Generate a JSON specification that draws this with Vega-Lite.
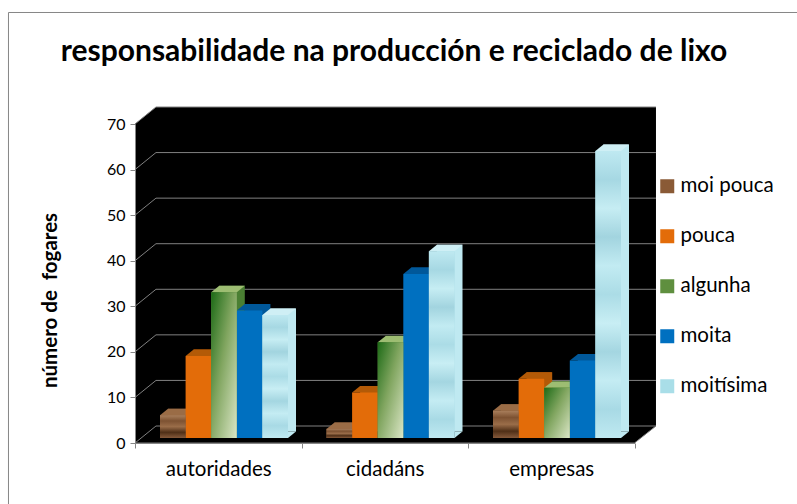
{
"$schema":"https://vega.github.io/schema/vega-lite/v6.json",
"width":499.5,"height":319,
"autosize":{"type":"none"},
"padding":{"left":135,"top":124,"right":162.5,"bottom":61},
"background":"white",
"config":{"view":{"stroke":null},"font":"Lato"},
"datasets":{
"bars":[
{"group":"autoridades","series":"moi pouca","value":5},{"group":"autoridades","series":"pouca","value":18},{"group":"autoridades","series":"algunha","value":32},{"group":"autoridades","series":"moita","value":28},{"group":"autoridades","series":"moitísima","value":27},
{"group":"cidadáns","series":"moi pouca","value":2},{"group":"cidadáns","series":"pouca","value":10},{"group":"cidadáns","series":"algunha","value":21},{"group":"cidadáns","series":"moita","value":36},{"group":"cidadáns","series":"moitísima","value":41},
{"group":"empresas","series":"moi pouca","value":6},{"group":"empresas","series":"pouca","value":13},{"group":"empresas","series":"algunha","value":11},{"group":"empresas","series":"moita","value":17},{"group":"empresas","series":"moitísima","value":63}
],
"wall":[{"wx":0,"y0":0,"y1":70},{"wx":0.042,"y0":0,"y1":73.73},{"wx":1,"y0":0,"y1":73.73},{"wx":1.043,"y0":3.73,"y1":73.73}],
"grid":[
{"level":"0","wx":0,"gy":0},{"level":"0","wx":0.042,"gy":3.73},{"level":"0","wx":1.043,"gy":3.73},
{"level":"10","wx":0,"gy":10},{"level":"10","wx":0.042,"gy":13.73},{"level":"10","wx":1.043,"gy":13.73},
{"level":"20","wx":0,"gy":20},{"level":"20","wx":0.042,"gy":23.73},{"level":"20","wx":1.043,"gy":23.73},
{"level":"30","wx":0,"gy":30},{"level":"30","wx":0.042,"gy":33.73},{"level":"30","wx":1.043,"gy":33.73},
{"level":"40","wx":0,"gy":40},{"level":"40","wx":0.042,"gy":43.73},{"level":"40","wx":1.043,"gy":43.73},
{"level":"50","wx":0,"gy":50},{"level":"50","wx":0.042,"gy":53.73},{"level":"50","wx":1.043,"gy":53.73},
{"level":"60","wx":0,"gy":60},{"level":"60","wx":0.042,"gy":63.73},{"level":"60","wx":1.043,"gy":63.73},
{"level":"70","wx":0,"gy":70},{"level":"70","wx":0.042,"gy":73.73},{"level":"70","wx":1.043,"gy":73.73},
{"level":"floor","wx":0,"gy":0},{"level":"floor","wx":1,"gy":0},{"level":"floor","wx":1.043,"gy":3.73}
],
"frame":[{"wx":-0.2533,"gy":-14},{"wx":-0.2533,"gy":94.47},{"wx":1.33,"gy":94.47}],
"heading":[{"wx":0.5185,"gy":83.8,"label":"responsabilidade na producción e reciclado de lixo"}]
},
"layer":[
{"layer":[
{"data":{"name":"frame"},"mark":{"type":"line","color":"#868686","strokeWidth":1,"clip":false},
 "encoding":{"x":{"field":"wx","type":"quantitative","scale":{"domain":[0,1],"nice":false,"zero":false},"axis":null},"y":{"field":"gy","type":"quantitative","scale":{"domain":[0,70],"nice":false},"axis":{"values":[0,10,20,30,40,50,60,70],"grid":false,"title":"número de\u00a0 fogares","titleFontSize":20.5,"titleFontWeight":"bold","titleColor":"#000000","titleX":-75,"titleY":176,"labelFontSize":16,"labelColor":"#000000","labelPadding":5,"tickSize":5,"tickColor":"#868686","domainColor":"#868686","zindex":1}},"order":{"field":"gy","type":"quantitative"}}},
{"data":{"name":"wall"},"mark":{"type":"area","color":"#000000","clip":false},
 "encoding":{"x":{"field":"wx","type":"quantitative"},"y":{"field":"y0","type":"quantitative"},"y2":{"field":"y1"}}},
{"data":{"name":"grid"},"mark":{"type":"line","color":"#808080","strokeWidth":1,"clip":false},
 "encoding":{"x":{"field":"wx","type":"quantitative"},"y":{"field":"gy","type":"quantitative"},"detail":{"field":"level","type":"nominal"}}},
{"data":{"name":"heading"},"mark":{"type":"text","font":"Lato","fontSize":30,"fontWeight":"bold","color":"#000000","align":"center","baseline":"alphabetic"},
 "encoding":{"x":{"field":"wx","type":"quantitative"},"y":{"field":"gy","type":"quantitative"},"text":{"field":"label"}}}
]},
{"data":{"name":"bars"},
 "resolve":{"scale":{"xOffset":"independent","color":"independent"}},
 "layer":[
 {"mark":{"type":"bar","opacity":0},
  "encoding":{"x":{"field":"group","type":"nominal","sort":["autoridades","cidadáns","empresas"],"scale":{"paddingInner":0,"paddingOuter":0},"axis":{"orient":"bottom","title":null,"labelAngle":0,"labelFontSize":20.5,"labelColor":"#000000","labelPadding":11,"tickBand":"extent","tickSize":5,"tickColor":"#868686","domainColor":"#868686","zindex":1}},"y":{"field":"value","type":"quantitative"}}},
 {"mark":{"type":"bar","yOffset":-11.5,"y2Offset":-11.5},
  "encoding":{"x":{"field":"group","type":"nominal"},"y":{"field":"value","type":"quantitative"},
   "xOffset":{"field":"series","type":"nominal","scale":{"domain":["moi pouca","pouca","algunha","moita","moitísima"],"range":[33,161],"paddingInner":0,"paddingOuter":0}},
   "color":{"field":"series","type":"nominal","legend":null,"scale":{"domain":["moi pouca","pouca","algunha","moita","moitísima"],"range":["#7a4f2e","#b35a07","#4a7f33","#00589a","#bfe9f1"]}}}},
 {"mark":{"type":"point","filled":true,"opacity":1,"strokeWidth":0,"size":655,"yOffset":-5,"shape":"M-1,0 L1,0 L1.625,-0.5 L-0.375,-0.5 Z"},
  "encoding":{"x":{"field":"group","type":"nominal"},"y":{"field":"value","type":"quantitative"},
   "xOffset":{"field":"series","type":"nominal","scale":{"type":"point","domain":["moi pouca","pouca","algunha","moita","moitísima"],"range":[37.8,140.2],"padding":0}},
   "color":{"field":"series","type":"nominal","legend":null,"scale":{"domain":["moi pouca","pouca","algunha","moita","moitísima"],"range":["#9a6c46","#b35a07","#9dbd72","#00589a","#cfeff5"]}}}},
 {"mark":{"type":"point","filled":true,"opacity":1,"strokeWidth":0,"size":655,"yOffset":-5,"shape":"M1,0 L1.625,-0.5 L1,-0.5 Z"},
  "encoding":{"x":{"field":"group","type":"nominal"},"y":{"datum":0,"type":"quantitative"},
   "xOffset":{"field":"series","type":"nominal","scale":{"type":"point","domain":["moi pouca","pouca","algunha","moita","moitísima"],"range":[37.8,140.2],"padding":0}},
   "color":{"field":"series","type":"nominal","legend":null,"scale":{"domain":["moi pouca","pouca","algunha","moita","moitísima"],"range":["#7a4f2e","#b35a07","#4a7f33","#00589a","#bfe9f1"]}}}},
 {"mark":{"type":"bar","yOffset":-5,"y2Offset":-5},
  "encoding":{"x":{"field":"group","type":"nominal"},"y":{"field":"value","type":"quantitative"},
   "xOffset":{"field":"series","type":"nominal","scale":{"domain":["moi pouca","pouca","algunha","moita","moitísima"],"range":[25,153],"paddingInner":0,"paddingOuter":0}},
   "color":{"field":"series","type":"nominal","scale":{"domain":["moi pouca","pouca","algunha","moita","moitísima"],"range":["#8a5a36","#E36C09","#5f8f3f","#0070C0","#A9DEE8"]},
    "legend":{"orient":"none","legendX":522,"legendY":52,"title":null,"symbolType":"square","symbolSize":196,"symbolStrokeWidth":0,"labelFontSize":20.5,"labelColor":"#000000","labelOffset":3,"rowPadding":29,"labelExpr":"(datum.value=='moi pouca'||datum.value=='pouca')?'\u00a0'+'\u00a0'+datum.value:datum.value"}}}},
 {"transform":[{"filter":"datum.series=='moi pouca'"}],
  "mark":{"type":"bar","yOffset":-5,"y2Offset":-5,"color":{"gradient":"linear","x1":0,"y1":0,"x2":0,"y2":1,"stops":[{"offset":0,"color":"#a97f5c"},{"offset":0.25,"color":"#7d5232"},{"offset":0.5,"color":"#9a6d49"},{"offset":0.75,"color":"#4f2f17"},{"offset":1,"color":"#85593a"}]}},
  "encoding":{"x":{"field":"group","type":"nominal"},"y":{"field":"value","type":"quantitative"},
   "xOffset":{"field":"series","type":"nominal","scale":{"domain":["moi pouca","pouca","algunha","moita","moitísima"],"range":[25,153],"paddingInner":0,"paddingOuter":0}}}},
 {"transform":[{"filter":"datum.series=='algunha'"}],
  "mark":{"type":"bar","yOffset":-5,"y2Offset":-5,"color":{"gradient":"linear","x1":0,"y1":0,"x2":1,"y2":1,"stops":[{"offset":0,"color":"#1c6a16"},{"offset":0.45,"color":"#80a55f"},{"offset":1,"color":"#dbe6c6"}]}},
  "encoding":{"x":{"field":"group","type":"nominal"},"y":{"field":"value","type":"quantitative"},
   "xOffset":{"field":"series","type":"nominal","scale":{"domain":["moi pouca","pouca","algunha","moita","moitísima"],"range":[25,153],"paddingInner":0,"paddingOuter":0}}}},
 {"transform":[{"filter":"datum.series=='moitísima'"}],
  "mark":{"type":"bar","yOffset":-5,"y2Offset":-5,"color":{"gradient":"linear","x1":0,"y1":0,"x2":0,"y2":1,"stops":[{"offset":0,"color":"#bfe9f1"},{"offset":0.1,"color":"#a6d8e3"},{"offset":0.2,"color":"#c6edf3"},{"offset":0.3,"color":"#a2d4df"},{"offset":0.4,"color":"#c2ebf2"},{"offset":0.5,"color":"#abdce6"},{"offset":0.6,"color":"#c8eef4"},{"offset":0.7,"color":"#a4d6e1"},{"offset":0.8,"color":"#c4ecf3"},{"offset":0.9,"color":"#a8dae5"},{"offset":1,"color":"#bfe9f1"}]}},
  "encoding":{"x":{"field":"group","type":"nominal"},"y":{"field":"value","type":"quantitative"},
   "xOffset":{"field":"series","type":"nominal","scale":{"domain":["moi pouca","pouca","algunha","moita","moitísima"],"range":[25,153],"paddingInner":0,"paddingOuter":0}}}}
 ]}
],
"resolve":{"scale":{"x":"independent"}}
}
